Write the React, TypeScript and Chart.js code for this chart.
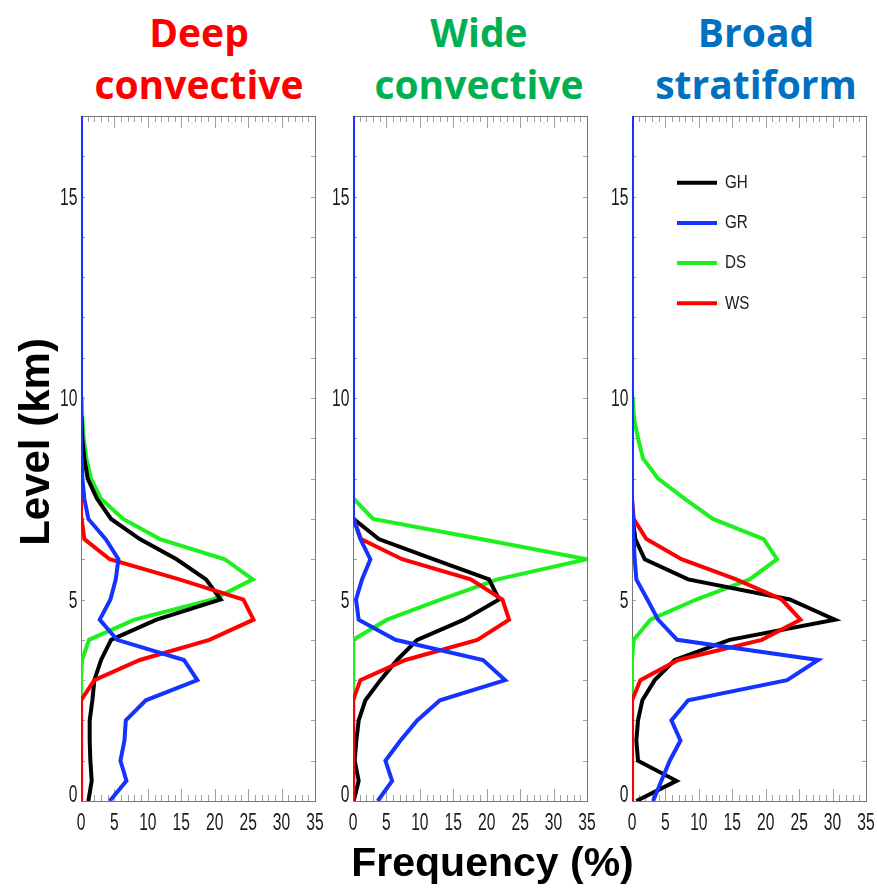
import React, { useEffect, useRef } from 'react';
import { Chart, registerables } from 'chart.js';

Chart.register(...registerables);

// Height levels (km)
const levels = [0, 0.5, 1, 1.5, 2, 2.5, 3, 3.5, 4, 4.5, 5, 5.5, 6, 6.5, 7, 7.5, 8, 8.5, 9, 9.5, 10, 10.5, 11, 11.5, 12, 12.5, 13, 13.5, 14, 14.5, 15, 15.5, 16, 16.5, 17];
const xTickLabels = [0, 5, 10, 15, 20, 25, 30, 35];
const yTickLabels = [0, 5, 10, 15];

const seriesNames = ['GH', 'GR', 'DS', 'WS'];
const seriesColors = ['#000000', '#1533ff', '#1ef01e', '#ff0000'];
const drawOrder = [2, 0, 3, 1];

const panelTitles = [['Deep', 'convective'], ['Wide', 'convective'], ['Broad', 'stratiform']];
const titleColors = ['#ff0000', '#00b050', '#0070c0'];

// Deep convective
const deepGH = [1.1, 1.6, 1.4, 1.3, 1.3, 1.7, 2.0, 3.0, 4.5, 11.3, 20.9, 18.7, 14.3, 8.8, 4.5, 2.4, 1.0, 0.5, 0.2, 0.1, 0, 0, 0, 0, 0, 0, 0, 0, 0, 0, 0, 0, 0, 0, 0];
const deepGR = [4.3, 6.8, 5.9, 6.5, 6.7, 9.7, 17.4, 15.4, 5.4, 2.8, 4.4, 5.2, 5.6, 3.7, 1.1, 0.5, 0.2, 0.1, 0, 0, 0, 0, 0, 0, 0, 0, 0, 0, 0, 0, 0, 0, 0, 0, 0];
const deepDS = [0, 0, 0, 0, 0, 0, 0, 0.15, 1.2, 8.0, 19.7, 25.7, 21.5, 11.8, 6.3, 3.0, 1.5, 0.8, 0.4, 0.2, 0.1, 0, 0, 0, 0, 0, 0, 0, 0, 0, 0, 0, 0, 0, 0];
const deepWS = [0, 0, 0, 0, 0, 0.1, 2.0, 8.8, 19.2, 25.8, 24.3, 14.7, 4.3, 0.5, 0.1, 0, 0, 0, 0, 0, 0, 0, 0, 0, 0, 0, 0, 0, 0, 0, 0, 0, 0, 0, 0];

// Wide convective
const wideGH = [0.1, 0.85, 0.25, 0.5, 0.85, 1.85, 4.1, 6.6, 9.6, 16.6, 21.85, 20.35, 12.0, 3.85, 0.1, 0, 0, 0, 0, 0, 0, 0, 0, 0, 0, 0, 0, 0, 0, 0, 0, 0, 0, 0, 0];
const wideGR = [3.7, 5.85, 4.85, 7.1, 9.6, 13.0, 22.75, 19.45, 6.35, 0.85, 0.45, 1.35, 2.6, 1.1, 0.1, 0, 0, 0, 0, 0, 0, 0, 0, 0, 0, 0, 0, 0, 0, 0, 0, 0, 0, 0, 0];
const wideDS = [0, 0, 0, 0, 0, 0, 0.05, 0.1, 0.1, 5.1, 13.1, 21.6, 35, 19.1, 3.0, 0.1, 0, 0, 0, 0, 0, 0, 0, 0, 0, 0, 0, 0, 0, 0, 0, 0, 0, 0, 0];
const wideWS = [0, 0, 0, 0, 0, 0.1, 1.1, 7.85, 18.6, 23.35, 22.35, 17.6, 7.35, 1.2, 0.1, 0, 0, 0, 0, 0, 0, 0, 0, 0, 0, 0, 0, 0, 0, 0, 0, 0, 0, 0, 0];

// Broad stratiform
const broadGH = [0.65, 6.65, 0.9, 0.65, 0.9, 1.55, 3.4, 6.4, 14.6, 30.35, 23.6, 8.4, 1.9, 0.5, 0.1, 0, 0, 0, 0, 0, 0, 0, 0, 0, 0, 0, 0, 0, 0, 0, 0, 0, 0, 0, 0];
const broadGR = [3.15, 4.4, 5.65, 7.25, 5.9, 8.4, 23.2, 27.85, 6.75, 3.9, 2.3, 0.65, 0.4, 0.25, 0.15, 0, 0, 0, 0, 0, 0, 0, 0, 0, 0, 0, 0, 0, 0, 0, 0, 0, 0, 0, 0];
const broadDS = [0, 0, 0, 0, 0, 0, 0, 0, 0.25, 2.75, 9.6, 17.6, 21.7, 19.7, 12.1, 7.9, 3.9, 1.65, 0.9, 0.3, 0.1, 0, 0, 0, 0, 0, 0, 0, 0, 0, 0, 0, 0, 0, 0];
const broadWS = [0, 0, 0, 0, 0, 0.05, 1.25, 6.9, 19.4, 25.2, 22.4, 15.6, 7.4, 2.15, 0.25, 0, 0, 0, 0, 0, 0, 0, 0, 0, 0, 0, 0, 0, 0, 0, 0, 0, 0, 0, 0];

const panelSeries = [
  [deepGH, deepGR, deepDS, deepWS],
  [wideGH, wideGR, wideDS, wideWS],
  [broadGH, broadGR, broadDS, broadWS],
];

const LABEL_FONT = '"Liberation Sans", Arial, sans-serif';

// Draws a narrow (horizontally condensed) text, like the original's condensed tick font
function narrowText(ctx: any, text: string, x: number, y: number, align: string, squeeze: number) {
  ctx.save();
  ctx.translate(x, y);
  ctx.scale(squeeze, 1);
  ctx.textAlign = align;
  ctx.fillText(text, 0, 0);
  ctx.restore();
}

const framePlugin = {
  id: 'frameTicks',
  beforeDatasetsDraw(chart: any) {
    const { ctx, chartArea: a, scales } = chart;
    const xs = scales.x;
    const ys = scales.y;
    ctx.save();
    ctx.lineWidth = 1;
    ctx.strokeStyle = '#a0a0a0';
    const seg = (x1: number, y1: number, x2: number, y2: number) => {
      ctx.beginPath();
      ctx.moveTo(x1, y1);
      ctx.lineTo(x2, y2);
      ctx.stroke();
    };
    xs.ticks.forEach((t: any) => {
      const px = Math.round(xs.getPixelForValue(t.value)) + 0.5;
      const len = xTickLabels.includes(t.value) ? 12 : 6;
      seg(px, a.bottom, px, a.bottom - len);
      seg(px, a.top, px, a.top + len);
    });
    ys.ticks.forEach((t: any) => {
      const py = Math.round(ys.getPixelForValue(t.value)) + 0.5;
      seg(a.left, py, a.left + 4, py);
      seg(a.right, py, a.right - 4, py);
    });
    ctx.strokeStyle = '#777777';
    ctx.strokeRect(Math.round(a.left) + 0.5, Math.round(a.top) + 0.5, Math.round(a.width), Math.round(a.height));
    ctx.restore();
  },
  afterDraw(chart: any) {
    const { ctx, chartArea: a, scales } = chart;
    const xs = scales.x;
    const ys = scales.y;
    ctx.save();
    ctx.fillStyle = '#1a1a1a';
    ctx.font = '23px ' + LABEL_FONT;
    ctx.textBaseline = 'alphabetic';
    xs.ticks.forEach((t: any) => {
      if (!t.label) return;
      narrowText(ctx, String(t.label), xs.getPixelForValue(t.value), a.bottom + 29, 'center', 0.68);
    });
    ys.ticks.forEach((t: any) => {
      if (!t.label) return;
      const py = ys.getPixelForValue(t.value);
      const base = t.value === 0 ? py + 1 : py + 8;
      narrowText(ctx, String(t.label), a.left - 3.5, base, 'right', 0.68);
    });
    ctx.restore();
  },
};

const keyPlugin = {
  id: 'seriesKey',
  afterDatasetsDraw(chart: any, _args: any, opts: any) {
    if (!opts || !opts.display) return;
    const { ctx, chartArea: a } = chart;
    ctx.save();
    chart.data.datasets.forEach((ds: any, i: number) => {
      const y = a.top + opts.top + i * opts.gap;
      ctx.strokeStyle = ds.borderColor;
      ctx.lineWidth = 4;
      ctx.beginPath();
      ctx.moveTo(a.left + opts.x1, y);
      ctx.lineTo(a.left + opts.x2, y);
      ctx.stroke();
      ctx.fillStyle = '#1a1a1a';
      ctx.font = '19px ' + LABEL_FONT;
      ctx.textBaseline = 'middle';
      narrowText(ctx, ds.label, a.left + opts.textX, y, 'left', 0.8);
    });
    ctx.restore();
  },
};

function Panel({ index, left }: { index: number; left: number }) {
  const ref = useRef<HTMLCanvasElement>(null);
  useEffect(() => {
    const canvas = ref.current;
    if (!canvas) return;
    const series = panelSeries[index];
    const chart = new Chart(canvas, {
      type: 'line',
      data: {
        datasets: series.map((vals, i) => ({
          label: seriesNames[i],
          data: vals.map((v, k) => ({ x: v, y: levels[k] })),
          borderColor: seriesColors[i],
          backgroundColor: seriesColors[i],
          borderWidth: 4,
          pointRadius: 0,
          fill: false,
          tension: 0,
          order: drawOrder[i],
        })),
      },
      options: {
        indexAxis: 'y',
        responsive: false,
        animation: false,
        events: [],
        layout: { padding: { top: 14, right: 14, left: 0, bottom: 0 } },
        plugins: {
          legend: { display: false },
          tooltip: { enabled: false },
          seriesKey: { display: index === 2, top: 66.7, gap: 40.2, x1: 45, x2: 85, textX: 93 },
        } as any,
        scales: {
          x: {
            type: 'linear',
            min: 0,
            max: 35,
            grid: { display: false, drawTicks: false },
            border: { display: false },
            ticks: {
              display: false,
              stepSize: 1,
              autoSkip: false,
              maxRotation: 0,
              callback: (v: any) => (xTickLabels.includes(Number(v)) ? String(v) : ''),
            },
            afterFit: (s: any) => { s.height = 45; },
          },
          y: {
            type: 'linear',
            min: 0,
            max: 17,
            grid: { display: false, drawTicks: false },
            border: { display: false },
            ticks: {
              display: false,
              stepSize: 1,
              autoSkip: false,
              callback: (v: any) => (yTickLabels.includes(Number(v)) ? String(v) : ''),
            },
            afterFit: (s: any) => { s.width = 50; },
          },
        },
      } as any,
      plugins: [framePlugin, keyPlugin],
    });
    return () => chart.destroy();
  }, [index]);
  return (
    <canvas
      ref={ref}
      width={298}
      height={744}
      style={{ position: 'absolute', left, top: 102, width: 298, height: 744 }}
    />
  );
}

const panelLefts = [31, 303, 582];
const titleCenters = [199, 479, 756];

export default function App() {
  return (
    <div style={{ position: 'absolute', left: 0, top: 0, width: 877, height: 890, overflow: 'hidden', background: '#ffffff' }}>
      {panelTitles.map((lines, i) => (
        <div
          key={'t' + i}
          style={{
            position: 'absolute',
            left: titleCenters[i] - 150,
            top: 5.6,
            width: 300,
            textAlign: 'center',
            fontFamily: '"Open Sans", Lato, sans-serif',
            fontWeight: 700,
            fontSize: 39,
            lineHeight: '52px',
            color: titleColors[i],
            whiteSpace: 'nowrap',
          }}
        >
          {lines[0]}
          <br />
          {lines[1]}
        </div>
      ))}
      {panelLefts.map((l, i) => (
        <Panel key={'p' + i} index={i} left={l} />
      ))}
      <div
        style={{
          position: 'absolute',
          left: 35.4 - 150,
          top: 442 - 25,
          width: 300,
          height: 50,
          lineHeight: '50px',
          textAlign: 'center',
          transform: 'rotate(-90deg)',
          fontFamily: '"Liberation Sans", Arial, sans-serif',
          fontWeight: 700,
          fontSize: 42,
          color: '#000',
          whiteSpace: 'nowrap',
        }}
      >
        Level (km)
      </div>
      <div
        style={{
          position: 'absolute',
          left: 492.5 - 200,
          top: 876.7 - 39.6,
          width: 400,
          height: 50,
          lineHeight: '50px',
          textAlign: 'center',
          fontFamily: '"Liberation Sans", Arial, sans-serif',
          fontWeight: 700,
          fontSize: 41,
          color: '#000',
          whiteSpace: 'nowrap',
        }}
      >
        Frequency (%)
      </div>
    </div>
  );
}
